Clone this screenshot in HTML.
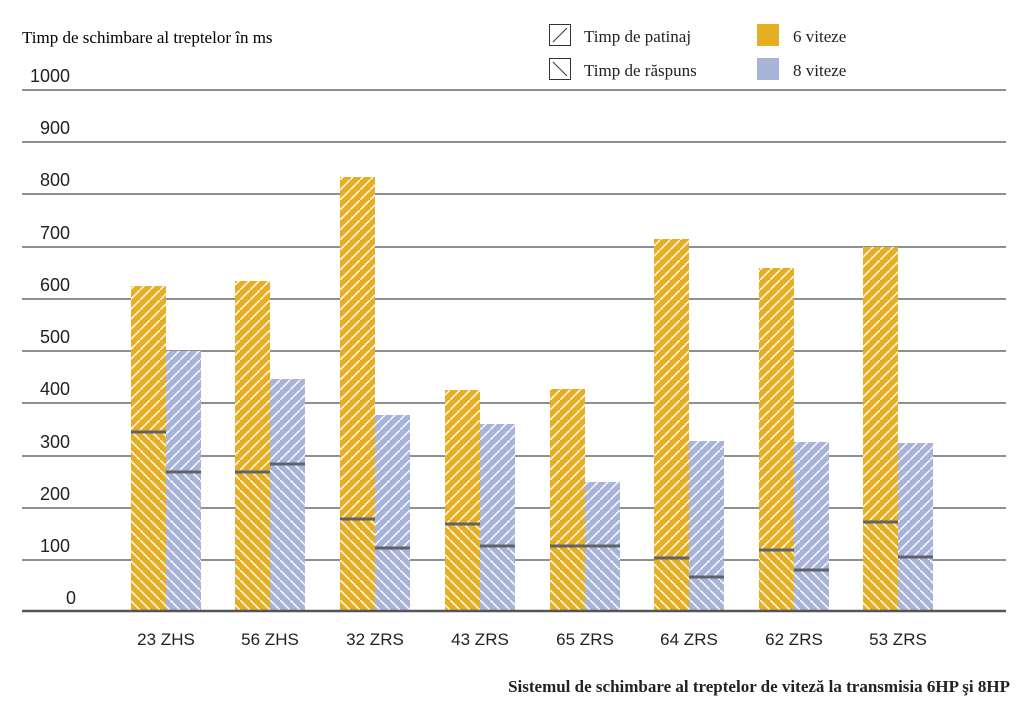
<!DOCTYPE html><html><head><style>body{margin:0;background:#fff}</style></head><body>
<svg width="1024" height="700" xmlns="http://www.w3.org/2000/svg">
<defs>
<pattern id="f" patternUnits="userSpaceOnUse" width="10" height="10"><path d="M-2,12 L12,-2" stroke="#fff" stroke-width="1.6" opacity="0.9"/></pattern>
<pattern id="b" patternUnits="userSpaceOnUse" width="10" height="10"><path d="M-2,-2 L12,12" stroke="#fff" stroke-width="1.6" opacity="0.9"/></pattern>
</defs>
<text x="22" y="43" font-family="Liberation Serif" font-size="17">Timp de schimbare al treptelor în ms</text>
<g stroke="#6a6a6a" stroke-width="1.5">
<line x1="22" x2="1006" y1="90" y2="90"/><line x1="22" x2="1006" y1="142" y2="142"/><line x1="22" x2="1006" y1="194" y2="194"/><line x1="22" x2="1006" y1="247" y2="247"/><line x1="22" x2="1006" y1="299" y2="299"/><line x1="22" x2="1006" y1="351" y2="351"/><line x1="22" x2="1006" y1="403" y2="403"/><line x1="22" x2="1006" y1="456" y2="456"/><line x1="22" x2="1006" y1="508" y2="508"/><line x1="22" x2="1006" y1="560" y2="560"/>
</g>
<g font-family="Liberation Sans" font-size="18" fill="#222">
<text x="30" y="82">1000</text><text x="40" y="134">900</text><text x="40" y="186">800</text><text x="40" y="239">700</text><text x="40" y="291">600</text><text x="40" y="343">500</text><text x="40" y="395">400</text><text x="40" y="448">300</text><text x="40" y="500">200</text><text x="40" y="552">100</text><text x="66" y="604">0</text>
</g>
<g fill="#E6AE22">
<rect x="131" y="286" width="35" height="325"/><rect x="235" y="281" width="35" height="330"/><rect x="340" y="177" width="35" height="434"/><rect x="445" y="390" width="35" height="221"/><rect x="550" y="389" width="35" height="222"/><rect x="654" y="239" width="35" height="372"/><rect x="759" y="268" width="35" height="343"/><rect x="863" y="247" width="35" height="364"/>
</g>
<g fill="#A8B3D8">
<rect x="166" y="351" width="35" height="260"/><rect x="270" y="379" width="35" height="232"/><rect x="375" y="415" width="35" height="196"/><rect x="480" y="424" width="35" height="187"/><rect x="585" y="482" width="35" height="129"/><rect x="689" y="441" width="35" height="170"/><rect x="794" y="442" width="35" height="169"/><rect x="898" y="443" width="35" height="168"/>
</g>
<g fill="url(#f)">
<rect x="131" y="286" width="35" height="146"/><rect x="166" y="351" width="35" height="121"/>
<rect x="235" y="281" width="35" height="191"/><rect x="270" y="379" width="35" height="85"/>
<rect x="340" y="177" width="35" height="342"/><rect x="375" y="415" width="35" height="133"/>
<rect x="445" y="390" width="35" height="134"/><rect x="480" y="424" width="35" height="122"/>
<rect x="550" y="389" width="35" height="157"/><rect x="585" y="482" width="35" height="64"/>
<rect x="654" y="239" width="35" height="319"/><rect x="689" y="441" width="35" height="136"/>
<rect x="759" y="268" width="35" height="282"/><rect x="794" y="442" width="35" height="128"/>
<rect x="863" y="247" width="35" height="275"/><rect x="898" y="443" width="35" height="114"/>
</g>
<g fill="url(#b)">
<rect x="131" y="432" width="35" height="179"/><rect x="166" y="472" width="35" height="139"/>
<rect x="235" y="472" width="35" height="139"/><rect x="270" y="464" width="35" height="147"/>
<rect x="340" y="519" width="35" height="92"/><rect x="375" y="548" width="35" height="63"/>
<rect x="445" y="524" width="35" height="87"/><rect x="480" y="546" width="35" height="65"/>
<rect x="550" y="546" width="35" height="65"/><rect x="585" y="546" width="35" height="65"/>
<rect x="654" y="558" width="35" height="53"/><rect x="689" y="577" width="35" height="34"/>
<rect x="759" y="550" width="35" height="61"/><rect x="794" y="570" width="35" height="41"/>
<rect x="863" y="522" width="35" height="89"/><rect x="898" y="557" width="35" height="54"/>
</g>
<g fill="#5f6266">
<rect x="131" y="430.5" width="35" height="3"/><rect x="166" y="470.5" width="35" height="3"/>
<rect x="235" y="470.5" width="35" height="3"/><rect x="270" y="462.5" width="35" height="3"/>
<rect x="340" y="517.5" width="35" height="3"/><rect x="375" y="546.5" width="35" height="3"/>
<rect x="445" y="522.5" width="35" height="3"/><rect x="480" y="544.5" width="35" height="3"/>
<rect x="550" y="544.5" width="35" height="3"/><rect x="585" y="544.5" width="35" height="3"/>
<rect x="654" y="556.5" width="35" height="3"/><rect x="689" y="575.5" width="35" height="3"/>
<rect x="759" y="548.5" width="35" height="3"/><rect x="794" y="568.5" width="35" height="3"/>
<rect x="863" y="520.5" width="35" height="3"/><rect x="898" y="555.5" width="35" height="3"/>
</g>
<line x1="22" x2="1006" y1="611" y2="611" stroke="#555" stroke-width="2.5"/>
<g font-family="Liberation Sans" font-size="17" fill="#222" text-anchor="middle">
<text x="166" y="645">23 ZHS</text><text x="270" y="645">56 ZHS</text><text x="375" y="645">32 ZRS</text><text x="480" y="645">43 ZRS</text><text x="585" y="645">65 ZRS</text><text x="689" y="645">64 ZRS</text><text x="794" y="645">62 ZRS</text><text x="898" y="645">53 ZRS</text>
</g>
<rect x="549.5" y="24.5" width="21" height="21" fill="none" stroke="#333"/><line x1="553" y1="42" x2="567" y2="28" stroke="#333"/>
<rect x="549.5" y="58.5" width="21" height="21" fill="none" stroke="#333"/><line x1="553" y1="62" x2="567" y2="76" stroke="#333"/>
<rect x="757" y="24" width="22" height="22" fill="#E6AE22"/><rect x="757" y="58" width="22" height="22" fill="#A8B3D8"/>
<g font-family="Liberation Serif" font-size="17" fill="#222">
<text x="584" y="42">Timp de patinaj</text><text x="584" y="76">Timp de răspuns</text>
<text x="793" y="42">6 viteze</text><text x="793" y="76">8 viteze</text>
</g>
<text x="1010" y="692" text-anchor="end" font-family="Liberation Serif" font-size="17" font-weight="bold" fill="#222">Sistemul de schimbare al treptelor de viteză la transmisia 6HP şi 8HP</text>
</svg>
</body></html>
